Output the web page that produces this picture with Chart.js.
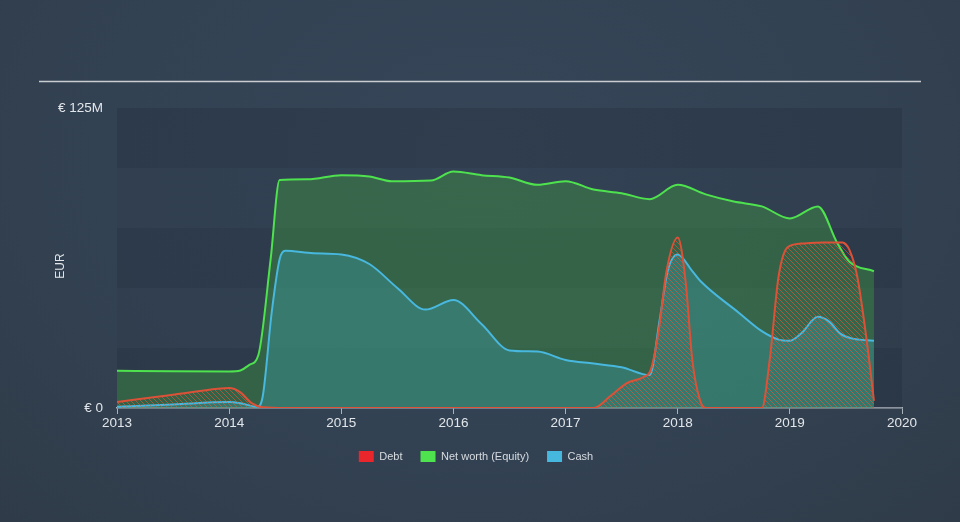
<!DOCTYPE html>
<html>
<head>
<meta charset="utf-8">
<script src="https://cdn.jsdelivr.net/npm/chart.js@4.4.0/dist/chart.umd.min.js"></script>
<style>
  html, body { margin: 0; padding: 0; }
  body { width: 960px; height: 522px; background: radial-gradient(ellipse at 50% 30%, #364557 0%, #334253 55%, #2f3b48 100%); }
  #wrap { width: 960px; height: 522px; }
</style>
</head>
<body>
<div id="wrap"><canvas id="canvas"></canvas></div>
<script>
// values in EUR millions, x in fractional years
var debtX = [2013, 2013.5, 2013.9, 2014.0, 2014.1, 2014.2, 2014.3, 2014.5, 2017.25, 2017.4, 2017.55, 2017.7, 2017.76, 2017.83, 2017.9, 2018.0, 2018.07, 2018.13, 2018.2, 2018.25, 2018.75, 2018.82, 2018.9, 2018.98, 2019.1, 2019.3, 2019.47, 2019.53, 2019.6, 2019.68, 2019.75];
var debtY = [2.5, 5.5, 8, 8.3, 6.5, 2, 0.3, 0, 0, 5, 10.5, 13, 16, 32, 57, 71, 53, 20, 3, 0, 0, 20, 55, 67, 68.5, 69, 69, 66, 55, 30, 3];

var equityX = [2013, 2013.5, 2014.0, 2014.1, 2014.18, 2014.26, 2014.37, 2014.45, 2014.7, 2015, 2015.25, 2015.45, 2015.8, 2016, 2016.25, 2016.5, 2016.75, 2017, 2017.25, 2017.5, 2017.75, 2018, 2018.25, 2018.5, 2018.75, 2019, 2019.25, 2019.42, 2019.53, 2019.75];
var equityY = [15.5, 15.3, 15.2, 15.6, 18, 22, 62, 95, 95.3, 97, 96.5, 94.5, 94.8, 98.5, 97, 96, 93, 94.5, 91, 89.5, 87, 93, 89, 86, 84, 79, 84, 69, 61, 57];

var cashX = [2013, 2013.5, 2014.0, 2014.1, 2014.25, 2014.3, 2014.38, 2014.45, 2014.5, 2014.75, 2015, 2015.25, 2015.5, 2015.75, 2016, 2016.25, 2016.5, 2016.75, 2017, 2017.25, 2017.5, 2017.75, 2017.84, 2017.91, 2018.0, 2018.13, 2018.2, 2018.55, 2018.75, 2018.9, 2019.0, 2019.1, 2019.25, 2019.35, 2019.45, 2019.55, 2019.75];
var cashY = [0.5, 1.5, 2.5, 2, 0.5, 5, 40, 62, 65.5, 64.5, 64, 60, 50, 41, 45, 35, 24, 23.5, 20, 18.5, 17, 13.7, 37, 57, 64, 57, 53, 39.5, 32, 28.5, 28, 31, 38, 36, 31, 29, 28];

var yearTicks = [2013, 2014, 2015, 2016, 2017, 2018, 2019, 2020];
var yTickLabels = { 0: '€ 0', 125: '€ 125M' };

function pts(xs, ys) {
  var out = [];
  for (var i = 0; i < xs.length; i++) out.push({ x: xs[i], y: ys[i] });
  return out;
}

// hatch pattern for the debt area
var pc = document.createElement('canvas');
pc.width = 5; pc.height = 5;
var p = pc.getContext('2d');
p.strokeStyle = 'rgba(226,90,60,0.6)';
p.lineWidth = 1;
p.beginPath();
p.moveTo(0, 0); p.lineTo(5, 5);
p.moveTo(-1, 4); p.lineTo(1, 6);
p.moveTo(4, -1); p.lineTo(6, 1);
p.stroke();
var hatch = document.getElementById('canvas').getContext('2d').createPattern(pc, 'repeat');

var bgPlugin = {
  id: 'bands',
  beforeDatasetsDraw: function(chart) {
    var c = chart.ctx, a = chart.chartArea, y = chart.scales.y;
    c.save();
    for (var v = 0; v < 125; v += 25) {
      var top = y.getPixelForValue(v + 25), bot = y.getPixelForValue(v);
      c.fillStyle = (v / 25) % 2 === 0 ? 'rgba(20,30,45,0.2)' : 'rgba(30,40,55,0.08)';
      c.fillRect(a.left, top, a.right - a.left, bot - top);
    }
    c.restore();
  },
  afterDraw: function(chart) {
    var c = chart.ctx;
    c.save();
    c.strokeStyle = '#c9cdd2';
    c.lineWidth = 1.5;
    c.beginPath();
    c.moveTo(39, 81.5); c.lineTo(921, 81.5);
    c.stroke();
    c.translate(61, 266);
    c.rotate(-Math.PI / 2);
    c.fillStyle = '#e2e6ea';
    c.font = '12px "Liberation Sans", Arial, sans-serif';
    c.textAlign = 'center';
    c.textBaseline = 'middle';
    c.fillText('EUR', 0, 0);
    c.restore();
  }
};

Chart.defaults.font.family = '"Liberation Sans", Arial, sans-serif';
Chart.defaults.color = '#e2e6ea';

var ctx = document.getElementById('canvas');
var chart = new Chart(ctx, {
  type: 'line',
  data: {
    datasets: [
      {
        label: 'Debt',
        data: pts(debtX, debtY),
        borderColor: '#dc5238',
        backgroundColor: hatch,
        borderWidth: 2,
        fill: 'origin',
        order: 1
      },
      {
        label: 'Net worth (Equity)',
        data: pts(equityX, equityY),
        borderColor: '#4fe24f',
        backgroundColor: 'rgba(62,155,66,0.42)',
        borderWidth: 2,
        fill: 'origin',
        order: 3
      },
      {
        label: 'Cash',
        data: pts(cashX, cashY),
        borderColor: '#48b8de',
        backgroundColor: 'rgba(60,150,160,0.42)',
        borderWidth: 2,
        fill: 'origin',
        order: 2
      }
    ]
  },
  options: {
    responsive: true,
    maintainAspectRatio: false,
    animation: false,
    layout: { padding: { top: 108, right: 58, left: 50, bottom: 50 } },
    elements: {
      point: { radius: 0, hoverRadius: 0 },
      line: { cubicInterpolationMode: 'monotone' }
    },
    scales: {
      x: {
        type: 'linear',
        min: 2013,
        max: 2020,
        afterBuildTicks: function(s) { s.ticks = yearTicks.map(function(v) { return { value: v }; }); },
        afterFit: function(s) { s.height = 25; },
        ticks: {
          callback: function(v) { return String(v); },
          font: { size: 13.5 },
          color: '#e2e6ea',
          padding: 1,
          maxRotation: 0
        },
        grid: { drawOnChartArea: false, color: '#a9b1bb', tickLength: 6 },
        border: { color: '#a9b1bb', width: 1.5 }
      },
      y: {
        min: 0,
        max: 125,
        afterBuildTicks: function(s) { s.ticks = [{ value: 0 }, { value: 125 }]; },
        afterFit: function(s) { s.width = 67; },
        ticks: {
          callback: function(v) { return yTickLabels[v]; },
          font: { size: 13.5 },
          color: '#e2e6ea',
          padding: 14
        },
        grid: { display: false, drawTicks: false },
        border: { display: false }
      }
    },
    plugins: {
      legend: {
        position: 'bottom',
        labels: {
          boxWidth: 15,
          boxHeight: 11,
          padding: 18,
          font: { size: 11 },
          color: '#d6dbe0',
          generateLabels: function(chart) {
            var cols = ['#e8262b', '#4ee24e', '#46b8de'];
            return chart.data.datasets.map(function(d, i) {
              return { text: d.label, fillStyle: cols[i], strokeStyle: cols[i], lineWidth: 0, datasetIndex: i, fontColor: '#d6dbe0' };
            });
          }
        }
      },
      tooltip: { enabled: false }
    }
  },
  plugins: [bgPlugin]
});
</script>
</body>
</html>
